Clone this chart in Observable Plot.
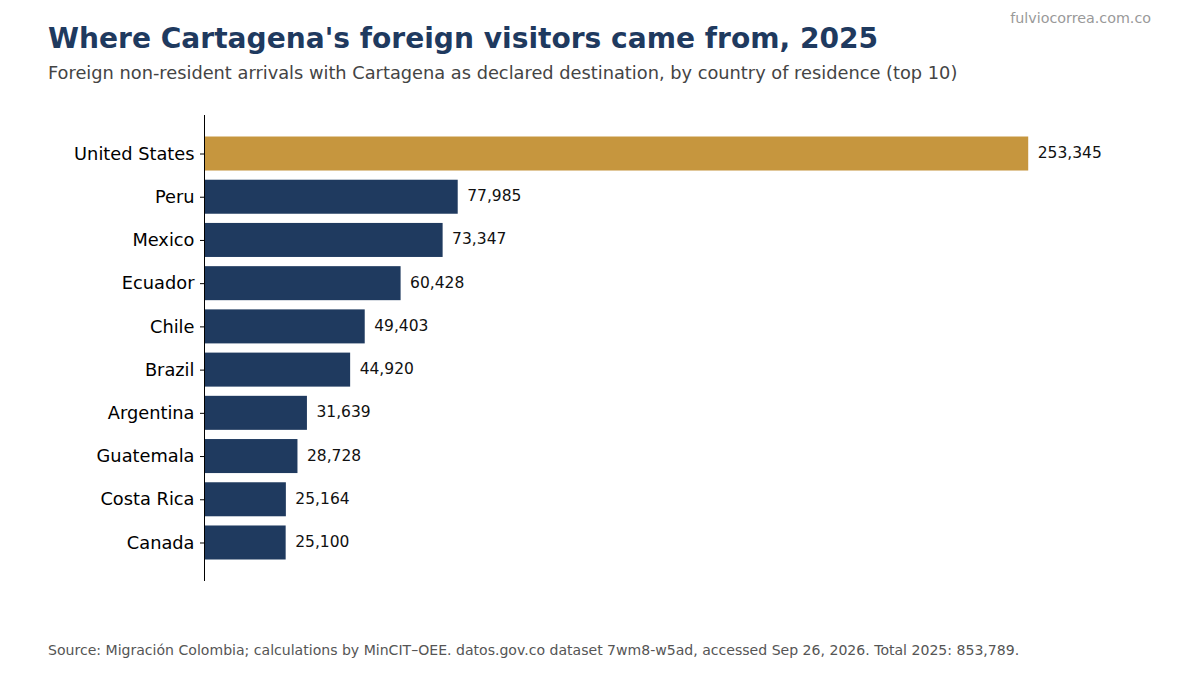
<!DOCTYPE html>
<html>
<head>
<meta charset="utf-8">
<script src="https://cdn.jsdelivr.net/npm/d3@7"></script>
<script src="https://cdn.jsdelivr.net/npm/@observablehq/plot@0.6"></script>
<style>
  html, body { margin: 0; padding: 0; background: #fff; }
  #wrap { position: relative; width: 1200px; height: 675px; overflow: hidden; font-family: "DejaVu Sans", sans-serif; }
  #title { position: absolute; left: 48px; top: 22px; font-size: 28.1px; font-weight: bold; color: #1f3a5f; white-space: nowrap; }
  #subtitle { position: absolute; left: 48px; top: 62px; font-size: 17.8px; color: #444; white-space: nowrap; }
  #credit { position: absolute; right: 49px; top: 10px; font-size: 14.3px; color: #999; white-space: nowrap; }
  #caption { position: absolute; left: 48px; top: 642px; font-size: 14.07px; color: #555; white-space: nowrap; }
  #chart { position: absolute; left: 0; top: 0; }
</style>
</head>
<body>
<div id="wrap">
  <div id="chart"></div>
  <div id="title">Where Cartagena's foreign visitors came from, 2025</div>
  <div id="subtitle">Foreign non-resident arrivals with Cartagena as declared destination, by country of residence (top 10)</div>
  <div id="credit">fulviocorrea.com.co</div>
  <div id="caption">Source: Migración Colombia; calculations by MinCIT–OEE. datos.gov.co dataset 7wm8-w5ad, accessed Sep 26, 2026. Total 2025: 853,789.</div>
</div>
<script>
const countries = ["United States", "Peru", "Mexico", "Ecuador", "Chile", "Brazil", "Argentina", "Guatemala", "Costa Rica", "Canada"];
const arrivals = [253345, 77985, 73347, 60428, 49403, 44920, 31639, 28728, 25164, 25100];
const highlight = "United States";

const data = countries.map((c, i) => ({country: c, value: arrivals[i]}));
const fmt = d3.format(",");

const chart = Plot.plot({
  width: 1200,
  height: 610,
  marginTop: 115,
  marginBottom: 29,
  marginLeft: 204,
  marginRight: 20,
  style: {fontFamily: "DejaVu Sans, sans-serif", background: "transparent"},
  x: {domain: [0, 300000], axis: null},
  y: {domain: countries, paddingInner: 0.213, paddingOuter: 0.4975, round: false, label: null},
  marks: [
    Plot.barX(data, {
      y: "country", x: "value",
      fill: d => d.country === highlight ? "#c6963e" : "#1f3a5f"
    }),
    Plot.text(data, {
      y: "country", x: "value",
      text: d => fmt(d.value),
      textAnchor: "start", dx: 9, dy: -1,
      fontSize: 15.5, fill: "#111"
    }),
    Plot.axisY({
      tickSize: 4, tickPadding: 6, fontSize: 17.8, stroke: "#000", color: "#000", label: null
    }),
    Plot.ruleX([0], {stroke: "#000", strokeWidth: 1})
  ]
});
document.getElementById("chart").appendChild(chart);
</script>
</body>
</html>
